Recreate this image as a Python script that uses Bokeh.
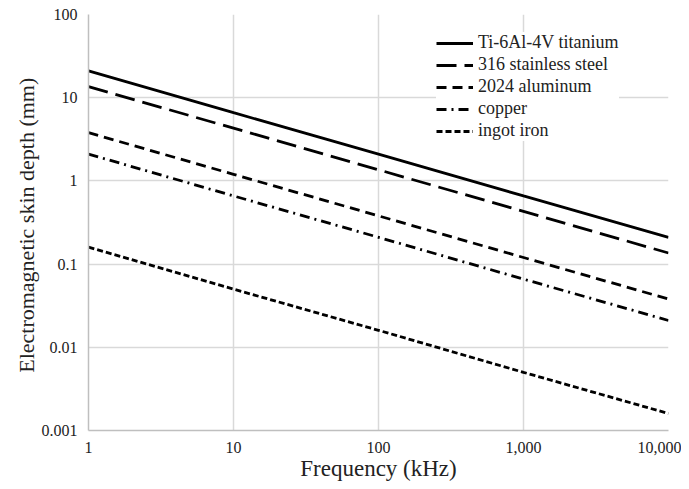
from bokeh.plotting import figure
from bokeh.models import FixedTicker, Legend, LegendItem, ColumnDataSource
from bokeh.embed import file_html
from bokeh.resources import INLINE

freq_khz = [1, 10, 100, 1000, 10000]
titanium = [21.0, 6.6, 2.1, 0.66, 0.21]
stainless = [13.6, 4.3, 1.36, 0.43, 0.136]
aluminum = [3.8, 1.2, 0.38, 0.12, 0.038]
copper = [2.1, 0.66, 0.21, 0.066, 0.021]
ingot_iron = [0.16, 0.05, 0.016, 0.005, 0.0016]

series_names = ["Ti-6Al-4V titanium", "316 stainless steel", "2024 aluminum", "copper", "ingot iron"]
series_values = [titanium, stainless, aluminum, copper, ingot_iron]
dashes = ["solid", "20 8", "10 6", "10 5 2 5", "6 3"]

x_ticks = [1, 10, 100, 1000, 10000]
x_labels = ["1", "10", "100", "1,000", "10,000"]
y_ticks = [0.001, 0.01, 0.1, 1, 10, 100]
y_labels = ["0.001", "0.01", "0.1", "1", "10", "100"]

FONT = "Liberation Serif"

p = figure(width=681, height=487, x_axis_type="log", y_axis_type="log",
           x_range=(1, 10000), y_range=(0.001, 100),
           output_backend="svg", toolbar_location=None,
           min_border_left=88, min_border_right=13, min_border_top=14, min_border_bottom=57)
p.outline_line_color = None

items = []
for name, vals, dash in zip(series_names, series_values, dashes):
    src = ColumnDataSource(dict(x=freq_khz, y=vals))
    r = p.line("x", "y", source=src, line_color="black", line_width=2.8, line_dash=dash)
    items.append(LegendItem(label=name, renderers=[r]))

legend = Legend(items=items, location=(348, 289))
legend.border_line_color = None
legend.background_fill_alpha = 1.0
legend.label_text_font = FONT
legend.label_text_font_size = "18px"
legend.label_text_color = "#222222"
legend.glyph_width = 37
legend.glyph_height = 20
legend.spacing = 1
legend.margin = 0
legend.padding = 0
legend.label_standoff = 5
legend.label_height = 20
p.add_layout(legend)

p.xaxis.ticker = FixedTicker(ticks=x_ticks)
p.yaxis.ticker = FixedTicker(ticks=y_ticks)
p.xaxis.major_label_overrides = {float(k): v for k, v in zip(x_ticks, x_labels)}
p.yaxis.major_label_overrides = {float(k): v for k, v in zip(y_ticks, y_labels)}

for ax in [p.xaxis[0], p.yaxis[0]]:
    ax.major_label_text_font = FONT
    ax.major_label_text_font_size = "16px"
    ax.major_label_text_color = "#222222"
    ax.axis_label_text_font = FONT
    ax.axis_label_text_font_style = "normal"
    ax.axis_label_text_color = "#222222"
    ax.major_tick_line_color = None
    ax.minor_tick_line_color = None
    ax.axis_line_color = "#bfbfbf"
    ax.axis_line_width = 1.5

p.xaxis.axis_label = "Frequency (kHz)"
p.yaxis.axis_label = "Electromagnetic  skin depth (mm)"
p.xaxis.axis_label_text_font_size = "23px"
p.yaxis.axis_label_text_font_size = "22px"
p.xaxis.major_label_standoff = 5
p.xaxis.axis_label_standoff = 0
p.yaxis.major_label_standoff = 5
p.yaxis.axis_label_standoff = 0

p.xgrid.ticker = FixedTicker(ticks=x_ticks)
p.ygrid.ticker = FixedTicker(ticks=y_ticks)
p.grid.grid_line_color = "#d9d9d9"
p.grid.grid_line_width = 1.5
p.xgrid.minor_grid_line_color = None
p.ygrid.minor_grid_line_color = None

open("out.html", "w").write(file_html(p, INLINE))
